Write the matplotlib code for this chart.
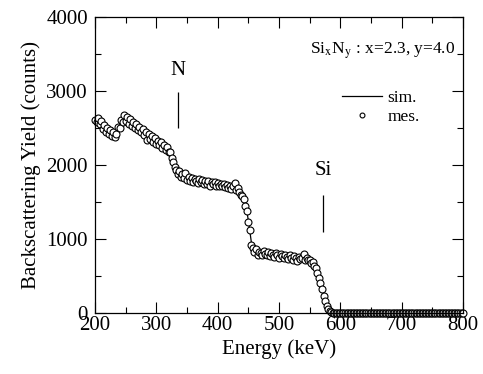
import numpy as np
import matplotlib.pyplot as plt
from matplotlib.lines import Line2D
from matplotlib.ticker import MultipleLocator

plt.rcParams['font.family'] = ['Liberation Serif', 'DejaVu Serif']
plt.rcParams['mathtext.fontset'] = 'stix'

# simulated spectrum, 200..800 keV every 5 keV
sim_energy = np.arange(200, 800.1, 5)
sim_yield = [
    2600, 2570, 2530, 2490, 2460, 2440, 2430, 2470, 2560, 2620,
    2630, 2600, 2560, 2530, 2500, 2470, 2440, 2410, 2380, 2350,
    2320, 2290, 2260, 2230, 2190, 2120, 2000, 1910, 1870, 1850,
    1830, 1815, 1800, 1795, 1790, 1780, 1770, 1765, 1760, 1755,
    1745, 1735, 1725, 1715, 1705, 1695, 1680, 1655, 1610, 1500,
    1250, 950, 840, 820, 815, 810, 805, 800, 795, 790,
    785, 780, 775, 770, 765, 760, 755, 750, 745, 740,
    730, 705, 640, 500, 300, 140, 50, 15, 5, 0,
    0, 0, 0, 0, 0, 0, 0, 0, 0, 0,
    0, 0, 0, 0, 0, 0, 0, 0, 0, 0,
    0, 0, 0, 0, 0, 0, 0, 0, 0, 0,
    0, 0, 0, 0, 0, 0, 0, 0, 0, 0,
    0,
]

# measured spectrum, 200..800 keV every 2.5 keV
mes_energy = np.arange(200, 800.1, 2.5)
mes_yield = [
    2610, 2580, 2640, 2560, 2600, 2490, 2540, 2450, 2500, 2420,
    2470, 2390, 2440, 2380, 2420, 2520, 2500, 2610, 2580, 2680,
    2600, 2650, 2560, 2620, 2530, 2580, 2500, 2550, 2470, 2510,
    2440, 2490, 2400, 2450, 2340, 2420, 2350, 2390, 2310, 2360,
    2290, 2330, 2270, 2310, 2230, 2270, 2200, 2240, 2170, 2180,
    2100, 2040, 1980, 1930, 1880, 1920, 1840, 1880, 1830, 1890,
    1800, 1840, 1780, 1830, 1770, 1810, 1790, 1760, 1810, 1770,
    1800, 1740, 1790, 1750, 1780, 1720, 1770, 1740, 1770, 1720,
    1760, 1720, 1750, 1710, 1740, 1700, 1730, 1690, 1720, 1670,
    1710, 1760, 1660, 1690, 1630, 1600, 1580, 1540, 1440, 1380,
    1230, 1120, 920, 880, 830, 860, 790, 830, 810, 780,
    840, 800, 780, 820, 770, 810, 790, 760, 810, 780,
    750, 800, 770, 740, 790, 760, 730, 780, 750, 720,
    770, 740, 700, 760, 730, 750, 800, 720, 740, 710,
    720, 680, 690, 640, 610, 540, 470, 400, 320, 230,
    160, 100, 60, 30, 15, 5, 0, 0, 0, 0,
    0, 0, 0, 0, 0, 0, 0, 0, 0, 0,
    0, 0, 0, 0, 0, 0, 0, 0, 0, 0,
    0, 0, 0, 0, 0, 0, 0, 0, 0, 0,
    0, 0, 0, 0, 0, 0, 0, 0, 0, 0,
    0, 0, 0, 0, 0, 0, 0, 0, 0, 0,
    0, 0, 0, 0, 0, 0, 0, 0, 0, 0,
    0, 0, 0, 0, 0, 0, 0, 0, 0, 0,
    0, 0, 0, 0, 0, 0, 0, 0, 0, 0,
    0,
]

# edge markers: (label, energy, text y, line bottom, line top)
edges = [('N', 336, 3280, 2500, 2990), ('Si', 572, 1930, 1095, 1600)]

fig = plt.figure(figsize=(4.83, 3.74), dpi=100)
ax = fig.add_axes([0.1967, 0.163, 0.762, 0.7915])

ax.plot(sim_energy, sim_yield, '-', color='black', lw=0.9)
ax.plot(mes_energy, mes_yield, 'o', ms=5, mfc='white', mec='black', mew=0.8,
        clip_on=False)

for name, e, ty, y0, y1 in edges:
    ax.vlines(e, y0, y1, color='black', lw=0.9)
    ax.text(e, ty, name, ha='center', va='center', fontsize=15)

ax.text(787, 3545, r'Si$_{\rm x}$N$_{\rm y}$ : x=2.3, y=4.0', ha='right',
        va='center', fontsize=12.5)

handles = [Line2D([], [], color='black', lw=0.9),
           Line2D([], [], ls='none', marker='o', ms=3.5, mfc='white', mec='black', mew=0.8)]
ax.legend(handles, ['sim.', 'mes.'], loc='upper left', bbox_to_anchor=(0.672, 0.755),
          frameon=False, fontsize=12.5, handlelength=2.3, handletextpad=0.3,
          labelspacing=0.2, borderpad=0, borderaxespad=0)

ax.set_xlim(200, 800)
ax.set_ylim(0, 4000)
ax.xaxis.set_major_locator(MultipleLocator(100))
ax.xaxis.set_minor_locator(MultipleLocator(50))
ax.yaxis.set_major_locator(MultipleLocator(1000))
ax.yaxis.set_minor_locator(MultipleLocator(500))
ax.tick_params(which='both', direction='in', top=True, right=True, width=0.8)
ax.tick_params(which='major', length=8, labelsize=15)
ax.tick_params(which='minor', length=4.5)
ax.tick_params(axis='x', pad=2)
ax.tick_params(axis='y', pad=5)
for s in ax.spines.values():
    s.set_linewidth(0.9)

ax.set_xlabel('Energy (keV)', fontsize=15, labelpad=3)
ax.set_ylabel('Backscattering Yield (counts)', fontsize=15, labelpad=4)

fig.savefig('out.png', dpi=100)
